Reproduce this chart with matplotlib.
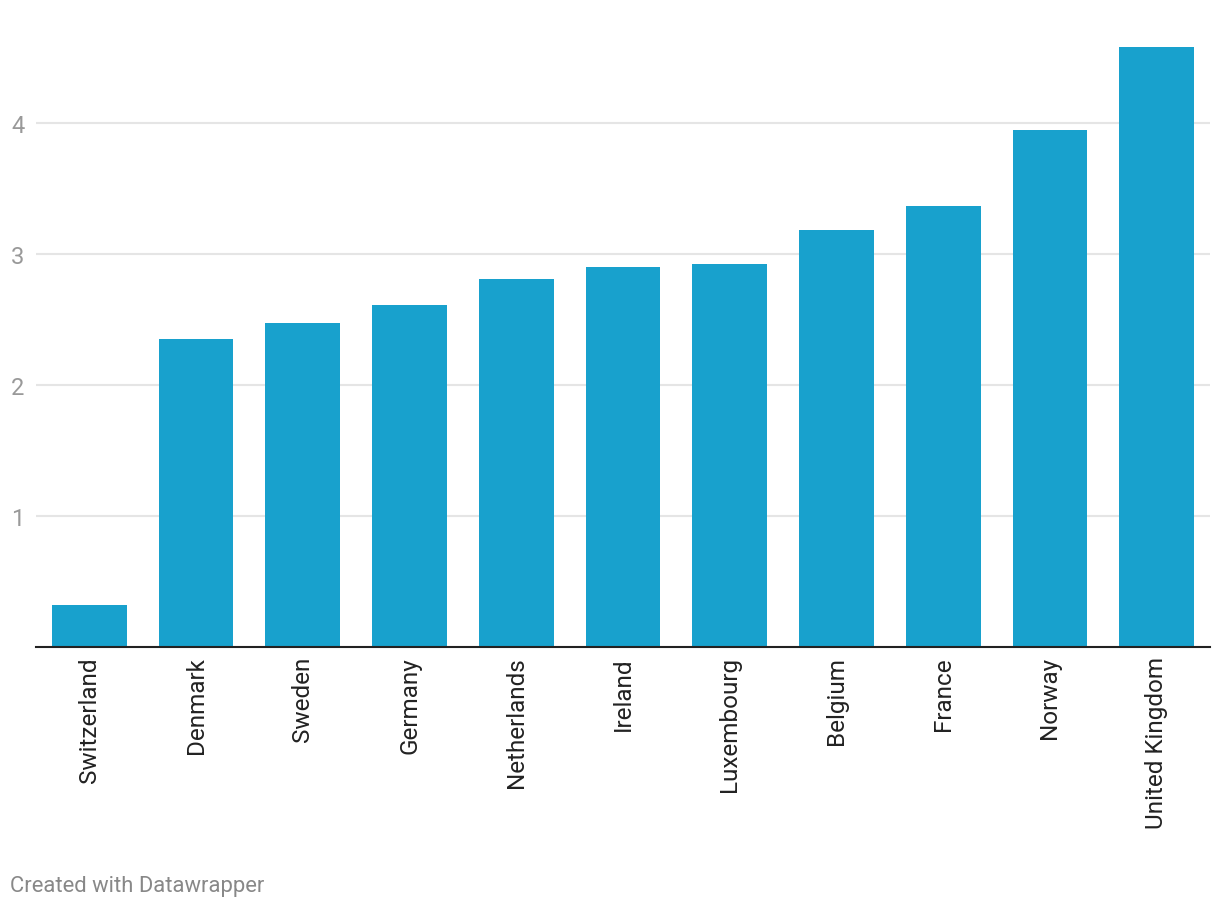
import matplotlib
matplotlib.use("Agg")
import matplotlib.pyplot as plt

countries = ["Switzerland", "Denmark", "Sweden", "Germany", "Netherlands", "Ireland",
             "Luxembourg", "Belgium", "France", "Norway", "United Kingdom"]
values = [0.32, 2.35, 2.47, 2.61, 2.81, 2.90, 2.92, 3.18, 3.37, 3.95, 4.58]
yticks = [1, 2, 3, 4]

plt.rcParams['font.family'] = ['Roboto', 'DejaVu Sans']

W, H = 1220, 912
fig = plt.figure(figsize=(W / 100, H / 100), dpi=100)
left, right, bottom, top = 36, 1210, 648, 40
ax = fig.add_axes([left / W, 1 - bottom / H, (right - left) / W, (bottom - top) / H])

x = range(len(countries))
ax.bar(x, values, width=0.7, color="#18a1cd", zorder=3)
ax.set_xlim(-0.5, len(countries) - 0.5)
ax.set_ylim(0, (bottom - top) / 131.0)

ax.set_yticks(yticks)
ax.set_yticklabels([str(t) for t in yticks])
ax.grid(axis='y', color="#e5e5e5", linewidth=1.5, zorder=0)
ax.tick_params(axis='y', length=0, pad=8.5, labelsize=17, labelcolor="#999999")
ax.tick_params(axis='x', length=0, pad=6.5, labelsize=17.5, labelcolor="#222222")
ax.set_xticks(list(x))
ax.set_xticklabels(countries, rotation=90, va='top', ha='center')

for s in ['top', 'right', 'left']:
    ax.spines[s].set_visible(False)
ax.spines['bottom'].set_color("#222222")
ax.spines['bottom'].set_linewidth(1.5)
ax.spines['bottom'].set_zorder(4)

fig.text(10 / W, 1 - 887 / H, "Created with Datawrapper", color="#888888",
         fontsize=15.8, ha='left', va='center')

fig.savefig("out.png", dpi=100)
